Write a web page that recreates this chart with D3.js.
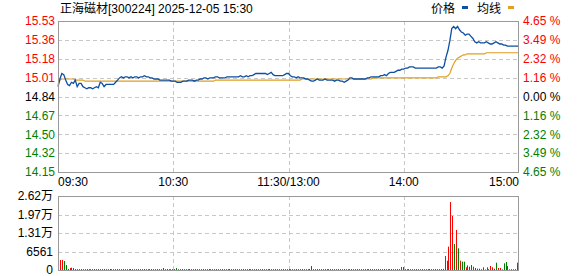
<!DOCTYPE html>
<html>
<head>
<meta charset="utf-8">
<script src="https://cdn.jsdelivr.net/npm/d3@7"></script>
<style>
  body { margin: 0; background: #fff; }
  text { font-family: "Liberation Sans", Arial, "Noto Sans CJK SC", sans-serif; font-size: 12px; }
</style>
</head>
<body>
<div id="chart"></div>
<script>
// stock + session info
let title = "正海磁材[300224] 2025-12-05 15:30";
let prevClose = 14.84;

let priceTicks = ["15.53", "15.36", "15.18", "15.01", "14.84", "14.67", "14.50", "14.32", "14.15"];
let pctTicks = ["4.65", "3.49", "2.32", "1.16", "0.00", "1.16", "2.32", "3.49", "4.65"];
let timeLabels = ["09:30", "10:30", "11:30/13:00", "14:00", "15:00"];
let timeMinutes = [0, 60, 120, 180, 240];
let volLabels = ["0", "6561", "1.31万", "1.97万", "2.62万"];
let volTickValues = [0, 6561, 13122, 19683, 26244];

// price per minute (241 points)
let price = [
  14.93,15.00,15.05,15.04,14.99,14.95,14.94,14.97,14.96,14.99,
  14.93,14.96,14.96,14.93,14.92,14.91,14.92,14.92,14.91,14.92,
  14.93,14.92,14.97,14.96,14.93,14.95,14.95,14.95,14.95,14.95,
  14.97,14.99,15.01,15.02,15.01,15.02,15.02,15.01,15.02,15.01,
  15.02,15.02,15.01,15.02,15.02,15.03,15.02,15.02,15.01,15.01,
  15.00,15.00,15.00,14.99,14.99,14.99,14.99,14.99,14.99,14.98,
  14.98,14.98,14.97,14.97,14.97,14.98,14.98,14.98,14.99,14.99,
  14.99,14.98,14.99,14.99,15.00,15.00,15.01,15.01,15.00,15.01,
  15.01,15.01,15.02,15.02,15.01,15.01,15.01,15.01,15.02,15.02,
  15.02,15.02,15.02,15.02,15.02,15.03,15.02,15.02,15.03,15.02,
  15.03,15.03,15.04,15.05,15.05,15.05,15.05,15.05,15.05,15.04,
  15.05,15.06,15.04,15.03,15.03,15.03,15.03,15.03,15.04,15.05,
  15.05,15.03,15.02,15.02,15.01,15.02,15.01,15.01,15.01,15.00,
  15.00,14.99,14.98,14.98,14.99,15.00,14.99,14.99,14.99,15.00,
  14.99,14.99,14.99,14.99,14.98,14.99,14.99,14.98,14.98,14.97,
  14.98,14.99,15.01,15.01,15.00,15.00,15.00,15.00,15.00,15.00,
  15.00,15.01,15.01,15.02,15.02,15.02,15.02,15.02,15.03,15.03,
  15.04,15.03,15.05,15.06,15.06,15.06,15.07,15.08,15.08,15.09,
  15.09,15.10,15.10,15.11,15.11,15.11,15.10,15.10,15.10,15.10,
  15.10,15.10,15.10,15.10,15.10,15.10,15.10,15.10,15.11,15.11,
  15.10,15.12,15.20,15.26,15.35,15.46,15.48,15.46,15.48,15.45,
  15.43,15.42,15.40,15.41,15.41,15.39,15.37,15.34,15.33,15.34,
  15.33,15.33,15.33,15.34,15.33,15.32,15.32,15.33,15.34,15.33,
  15.32,15.32,15.31,15.31,15.30,15.30,15.30,15.30,15.30,15.30,
  15.30
];

// average price line
let avgPrice = [
  14.95,14.99,15.00,15.00,15.00,15.00,15.00,15.00,15.00,14.99,
  14.99,14.99,14.99,14.99,14.98,14.98,14.98,14.98,14.98,14.98,
  14.98,14.98,14.98,14.98,14.98,14.98,14.98,14.98,14.98,14.98,
  14.98,14.98,14.98,14.98,14.98,14.98,14.98,14.98,14.98,14.98,
  14.98,14.98,14.98,14.98,14.98,14.98,14.98,14.98,14.98,14.98,
  14.98,14.98,14.98,14.98,14.98,14.98,14.98,14.98,14.98,14.98,
  14.98,14.98,14.98,14.98,14.98,14.98,14.98,14.98,14.98,14.98,
  14.98,14.98,14.98,14.98,14.98,14.98,14.98,14.98,14.98,14.98,
  14.98,14.98,14.99,14.99,14.99,14.99,14.99,14.99,14.99,14.99,
  14.99,14.99,14.99,14.99,14.99,14.99,14.99,14.99,14.99,14.99,
  14.99,14.99,14.99,14.99,14.99,14.99,14.99,14.99,14.99,14.99,
  14.99,14.99,14.99,14.99,14.99,14.99,14.99,14.99,14.99,14.99,
  14.99,14.99,14.99,14.99,14.99,14.99,14.99,15.00,15.00,15.00,
  15.00,15.00,15.00,15.00,15.00,15.00,15.00,15.00,15.00,15.00,
  15.00,15.00,15.00,15.00,15.00,15.00,15.00,15.00,15.00,15.00,
  15.00,15.00,15.00,15.00,15.00,15.00,15.00,15.00,15.00,15.00,
  15.00,15.00,15.00,15.00,15.01,15.01,15.01,15.01,15.01,15.01,
  15.01,15.01,15.01,15.01,15.01,15.01,15.01,15.01,15.01,15.01,
  15.01,15.01,15.01,15.01,15.01,15.01,15.01,15.01,15.01,15.01,
  15.01,15.01,15.01,15.01,15.01,15.01,15.01,15.01,15.02,15.02,
  15.02,15.02,15.02,15.03,15.05,15.10,15.14,15.17,15.19,15.20,
  15.21,15.22,15.22,15.23,15.23,15.23,15.23,15.23,15.23,15.23,
  15.23,15.23,15.23,15.24,15.24,15.24,15.24,15.24,15.24,15.24,
  15.24,15.24,15.24,15.24,15.24,15.24,15.24,15.24,15.24,15.24,
  15.24
];

// volume per minute (shares)
let volume = [
  3550,3550,3200,1770,350,700,820,700,350,300,
  300,350,300,300,350,300,300,300,350,300,
  350,300,300,350,300,300,350,300,300,300,
  350,300,300,350,300,300,300,350,300,300,
  300,350,300,300,350,300,300,300,350,300,
  300,350,300,300,700,300,350,300,300,300,
  350,700,300,300,350,300,300,300,350,300,
  300,350,300,300,300,350,300,300,350,300,
  300,300,350,300,300,350,300,300,300,350,
  300,300,350,300,300,300,350,300,300,350,
  300,300,300,350,300,300,350,300,300,300,
  350,300,300,350,300,300,300,350,300,300,
  350,300,300,300,350,300,300,350,300,300,
  300,350,1420,300,300,350,300,300,300,350,
  300,300,350,300,300,300,350,300,300,350,
  300,300,300,350,300,300,350,300,300,300,
  350,300,300,350,300,300,300,350,300,300,
  350,300,300,300,350,300,300,350,300,1060,
  1060,300,300,350,300,300,300,350,300,300,
  350,300,300,300,350,300,300,350,300,300,
  350,400,4970,3300,8280,24100,19150,9220,14200,7700,
  3300,2950,2950,950,1650,1180,1770,1180,710,470,
  470,300,950,200,950,300,1420,950,470,2600,
  710,710,200,2360,2830,1420,240,300,250,300,
  2600
];

// minutes whose volume bar is green (price down)
let downMinutes = [2,3,8,15,22,29,37,44,54,61,70,78,90,99,108,117,125,132,140,147,155,161,170,186,193,207,209,211,212,215,220,222,229,233,234];

let width = 578, height = 276;
let plotLeft = 58, plotRight = 519, plotTop = 21, plotBottom = 172;
let volTop = 196, volBottom = 270;

let red = "#ff0000", green = "#008000", gridColor = "#c8c8c8", frameColor = "#999999";

let svg = d3.select("#chart")
  .append("svg")
  .attr("width", width)
  .attr("height", height);

let x = d3.scaleLinear().domain([0, 240]).range([plotLeft, plotRight]);
let y = d3.scaleLinear().domain([14.15, 15.53]).range([plotBottom, plotTop]);
let yGrid = d3.scaleLinear().domain([0, priceTicks.length - 1]).range([plotTop, plotBottom]);
let xVol = d3.scaleLinear().domain([0, 240]).range([plotLeft + 2, plotRight - 2]);
let yVol = d3.scaleLinear().domain([0, 26244]).range([volBottom, volTop]);

// title + legend
svg.append("text").attr("x", 60).attr("y", 13).attr("fill", "#000").text(title);
svg.append("text").attr("x", 431).attr("y", 13).attr("fill", "#000").text("价格");
svg.append("rect").attr("x", 462).attr("y", 6).attr("width", 6).attr("height", 3).attr("fill", "#0d4fa3");
svg.append("text").attr("x", 477).attr("y", 13).attr("fill", "#000").text("均线");
svg.append("rect").attr("x", 508).attr("y", 6).attr("width", 6).attr("height", 3).attr("fill", "#e0a020");

// horizontal grid (price)
svg.append("g").selectAll("line")
  .data(d3.range(1, priceTicks.length - 1))
  .enter().append("line")
  .attr("x1", plotLeft).attr("x2", plotRight)
  .attr("y1", d => Math.round(yGrid(d)) + 0.5)
  .attr("y2", d => Math.round(yGrid(d)) + 0.5)
  .attr("stroke", gridColor)
  .attr("stroke-dasharray", "4,3");

// vertical grid (both panels)
[[plotTop, plotBottom], [volTop, volBottom]].forEach(function(r) {
  svg.append("g").selectAll("line")
    .data(timeMinutes.slice(1, -1))
    .enter().append("line")
    .attr("x1", d => Math.round(x(d)) + 0.5)
    .attr("x2", d => Math.round(x(d)) + 0.5)
    .attr("y1", r[0]).attr("y2", r[1])
    .attr("stroke", gridColor)
    .attr("stroke-dasharray", "4,3");
});

// left price labels, right pct labels
function tickColor(i) {
  if (i < 4) return red;
  if (i == 4) return "#000";
  return green;
}
svg.append("g").selectAll("text")
  .data(priceTicks)
  .enter().append("text")
  .attr("x", 55)
  .attr("y", (d, i) => yGrid(i))
  .attr("dy", "0.36em")
  .style("text-anchor", "end")
  .attr("fill", (d, i) => tickColor(i))
  .text(d => d);

svg.append("g").selectAll("text")
  .data(pctTicks)
  .enter().append("text")
  .attr("x", 523)
  .attr("y", (d, i) => yGrid(i))
  .attr("dy", "0.36em")
  .attr("fill", (d, i) => tickColor(i))
  .text(d => d + " %");

// time labels
svg.append("g").selectAll("text")
  .data(timeLabels)
  .enter().append("text")
  .attr("x", (d, i) => x(timeMinutes[i]))
  .attr("y", 186)
  .style("text-anchor", (d, i) => i == 0 ? "start" : (i == timeLabels.length - 1 ? "end" : "middle"))
  .attr("fill", "#000")
  .text(d => d);

// volume grid + labels
svg.append("g").selectAll("line")
  .data(volTickValues.slice(1, -1))
  .enter().append("line")
  .attr("x1", plotLeft).attr("x2", plotRight)
  .attr("y1", d => Math.round(yVol(d)) + 0.5)
  .attr("y2", d => Math.round(yVol(d)) + 0.5)
  .attr("stroke", gridColor)
  .attr("stroke-dasharray", "4,3");

svg.append("g").selectAll("text")
  .data(volLabels)
  .enter().append("text")
  .attr("x", 53)
  .attr("y", (d, i) => yVol(volTickValues[i]))
  .attr("dy", "0.36em")
  .style("text-anchor", "end")
  .attr("fill", "#000")
  .text(d => d);

// volume bars
svg.append("g").selectAll("rect")
  .data(volume)
  .enter().append("rect")
  .attr("x", (d, i) => Math.round(xVol(i)))
  .attr("y", d => yVol(d))
  .attr("width", 1)
  .attr("height", d => volBottom - yVol(d))
  .attr("fill", (d, i) => downMinutes.indexOf(i) >= 0 ? green : red);

// avg + price lines
let line = d3.line().x((d, i) => x(i)).y(d => y(d));
svg.append("path").datum(avgPrice)
  .attr("d", line).attr("fill", "none")
  .attr("stroke", "#e0a020").attr("stroke-width", 1.2);
svg.append("path").datum(price)
  .attr("d", line).attr("fill", "none")
  .attr("stroke", "#0d4fa3").attr("stroke-width", 1.3);

// frames
svg.append("rect")
  .attr("x", plotLeft + 0.5).attr("y", plotTop + 0.5)
  .attr("width", plotRight - plotLeft - 1).attr("height", plotBottom - plotTop)
  .attr("fill", "none").attr("stroke", frameColor);
svg.append("rect")
  .attr("x", plotLeft + 0.5).attr("y", volTop + 0.5)
  .attr("width", plotRight - plotLeft - 1).attr("height", volBottom - volTop)
  .attr("fill", "none").attr("stroke", frameColor);
</script>
</body>
</html>
